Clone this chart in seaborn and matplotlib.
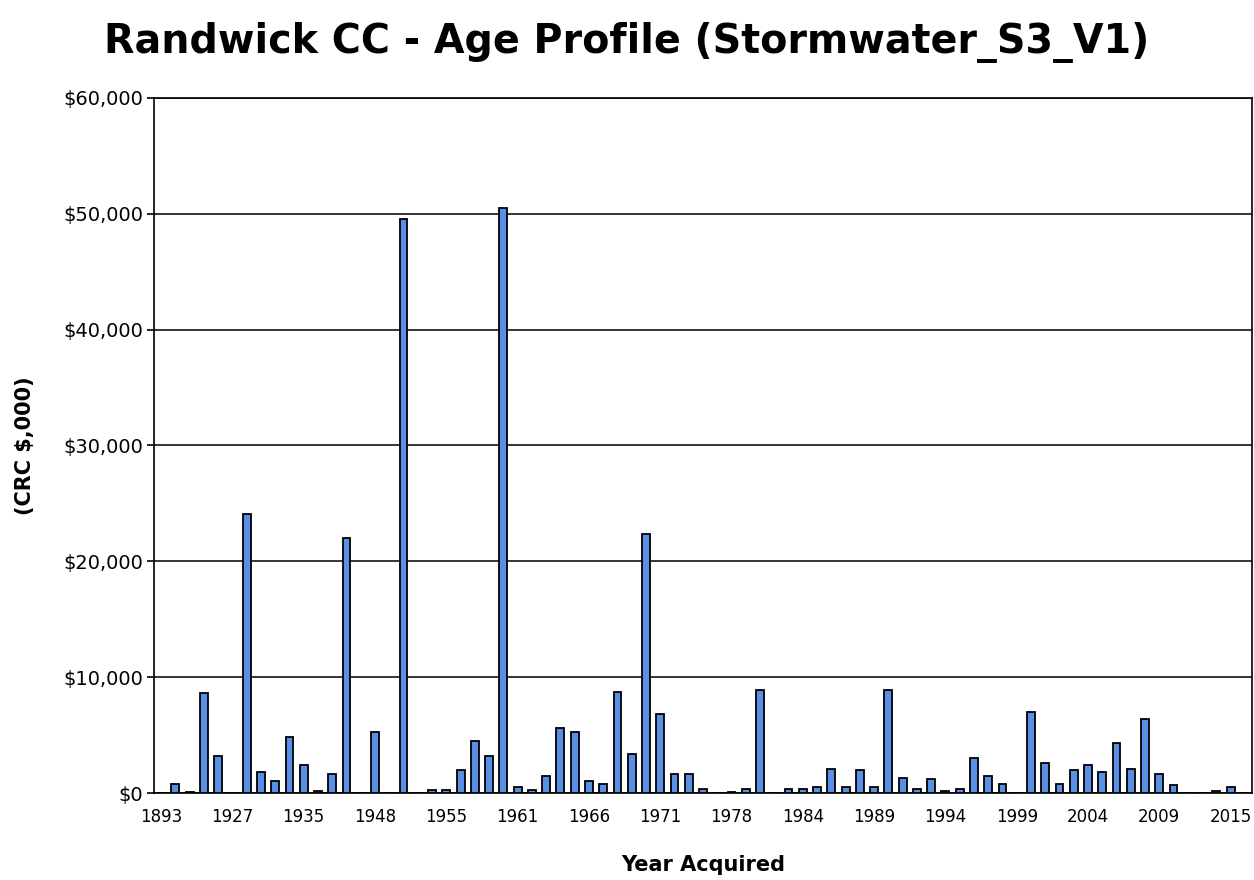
import pandas as pd
import numpy as np
import matplotlib.pyplot as plt
import seaborn as sns

# Year categories (only every fifth one is labelled on the axis)
years = [1893, 1900, 1910, 1920, 1925,
         1927, 1928, 1930, 1932, 1934,
         1935, 1937, 1940, 1942, 1945,
         1948, 1950, 1951, 1952, 1954,
         1955, 1956, 1957, 1958, 1960,
         1961, 1962, 1963, 1964, 1965,
         1966, 1967, 1968, 1969, 1970,
         1971, 1972, 1973, 1974, 1976,
         1978, 1979, 1980, 1981, 1983,
         1984, 1985, 1986, 1987, 1988,
         1989, 1990, 1991, 1992, 1993,
         1994, 1995, 1996, 1997, 1998,
         1999, 2000, 2001, 2002, 2003,
         2004, 2005, 2006, 2007, 2008,
         2009, 2010, 2011, 2012, 2014,
         2015, 2016]

# Current replacement cost ($,000) per year acquired
crc = [0, 800, 100, 8600, 3200,
       0, 24100, 1800, 1000, 4800,
       2400, 150, 1600, 22050, 0,
       5250, 0, 49570, 0, 300,
       300, 1950, 4500, 3200, 50500,
       500, 300, 1450, 5600, 5250,
       1000, 800, 8750, 3350, 22400,
       6850, 1600, 1600, 350, 0,
       120, 350, 8880, 0, 350,
       350, 500, 2100, 500, 1980,
       500, 8880, 1300, 350, 1180,
       150, 350, 3050, 1470, 800,
       0, 7000, 2560, 800, 1950,
       2400, 1800, 4300, 2100, 6350,
       1600, 660, 0, 0, 150,
       500, 0]

df = pd.DataFrame({'Year': [str(y) for y in years], 'CRC': crc})

sns.set_style('white')
plt.rcParams['font.family'] = ['DejaVu Sans']
plt.rcParams['text.color'] = 'black'
plt.rcParams['axes.labelcolor'] = 'black'
plt.rcParams['xtick.color'] = 'black'
plt.rcParams['ytick.color'] = 'black'

fig = plt.figure(figsize=(12.54, 8.8), dpi=100)
ax = fig.add_axes([154 / 1254, 1 - 793 / 880, 1098 / 1254, (793 - 98) / 880])

sns.barplot(data=df, x='Year', y='CRC', color='#5A8FE6', saturation=1,
            edgecolor='black', linewidth=1.3, width=0.55, ax=ax, zorder=3)

ax.set_xlim(-0.5, len(years) - 0.5)
ax.set_ylim(0, 60000)
ax.set_yticks(np.arange(0, 60001, 10000))
ax.set_yticklabels([f'${v:,.0f}' for v in np.arange(0, 60001, 10000)], fontsize=14)
ax.grid(axis='y', color='black', linewidth=1.1, zorder=0)
ax.set_axisbelow(True)

# labels on every fifth category, tick marks between categories
ax.set_xticks(range(0, len(years), 5))
ax.set_xticklabels([years[i] for i in range(0, len(years), 5)], fontsize=12)
ax.set_xticks(np.arange(4.5, len(years) - 1, 5), minor=True)
ax.tick_params(axis='x', which='major', length=0, pad=11)
ax.tick_params(axis='x', which='minor', length=5, width=1.2, color='black', direction='out')
ax.tick_params(axis='y', length=5, width=1.2, color='black', direction='out', left=True, pad=3)

for s in ax.spines.values():
    s.set_color('black')
    s.set_linewidth(1.2)

ax.set_xlabel('Year Acquired', fontsize=15, fontweight='bold')
ax.xaxis.set_label_coords(0.5, -0.1036)
ax.xaxis.label.set_verticalalignment('center')
ax.set_ylabel('(CRC $,000)', fontsize=15, fontweight='bold')
ax.yaxis.set_label_coords(-0.1175, 0.5)
ax.yaxis.label.set_verticalalignment('center')
fig.suptitle('Randwick CC - Age Profile (Stormwater_S3_V1)', fontsize=28.5,
             fontweight='bold', x=0.5, y=0.975)

fig.savefig('out.png', dpi=100)
